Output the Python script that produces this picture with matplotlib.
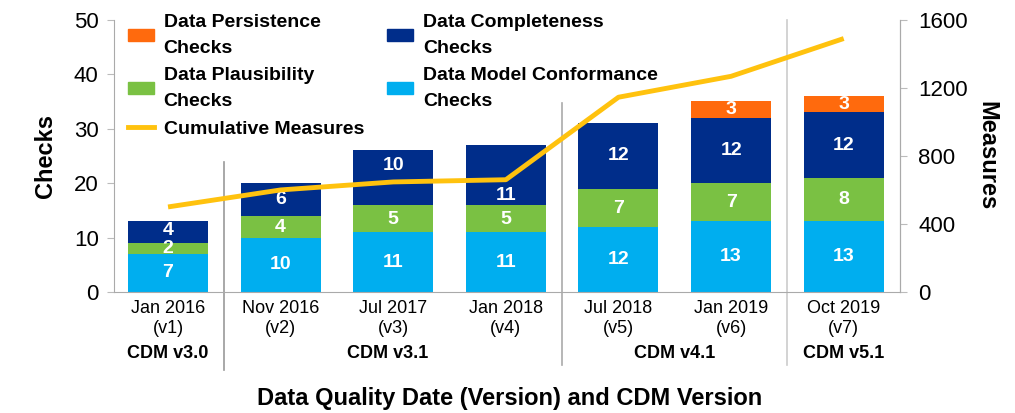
import matplotlib
matplotlib.use("Agg")
import matplotlib.pyplot as plt
from matplotlib.patches import Patch
from matplotlib.lines import Line2D

categories = ["Jan 2016\n(v1)", "Nov 2016\n(v2)", "Jul 2017\n(v3)", "Jan 2018\n(v4)",
              "Jul 2018\n(v5)", "Jan 2019\n(v6)", "Oct 2019\n(v7)"]
conformance = [7, 10, 11, 11, 12, 13, 13]
plausibility = [2, 4, 5, 5, 7, 7, 8]
completeness = [4, 6, 10, 11, 12, 12, 12]
persistence = [0, 0, 0, 0, 0, 3, 3]
measures = [500, 600, 647, 660, 1145, 1268, 1490]
cdm_labels = ["CDM v3.0", "CDM v3.1", "CDM v4.1", "CDM v5.1"]
cdm_centers = [0, 1.95, 4.5, 6]
separators = [0.5, 3.5, 5.5]

c_conf = "#00AEEF"
c_plaus = "#7AC143"
c_comp = "#002D8A"
c_pers = "#FF6A0D"
c_line = "#FFC20E"

plt.rcParams['font.family'] = ['Liberation Sans Narrow', 'Liberation Sans', 'DejaVu Sans']

fig = plt.figure(figsize=(10.15, 4.13), dpi=100)
ax = fig.add_axes([0.1123, 0.293, 0.7744, 0.659])
ax.patch.set_alpha(0)
x = list(range(len(categories)))
w = 0.71

b1 = ax.bar(x, conformance, w, color=c_conf)
bot2 = conformance
b2 = ax.bar(x, plausibility, w, bottom=bot2, color=c_plaus)
bot3 = [a + b for a, b in zip(conformance, plausibility)]
b3 = ax.bar(x, completeness, w, bottom=bot3, color=c_comp)
bot4 = [a + b for a, b in zip(bot3, completeness)]
b4 = ax.bar(x, persistence, w, bottom=bot4, color=c_pers)

def label(bars, vals, bottoms, offsets):
    for rect, v, b, o in zip(bars, vals, bottoms, offsets):
        if v > 0:
            ax.text(rect.get_x() + rect.get_width() / 2, b + v / 2 + o, str(v),
                    ha="center", va="center", color="white", fontsize=14, fontweight="bold")

label(b1, conformance, [0] * 7, [0] * 7)
label(b2, plausibility, bot2, [-0.1] * 7)
label(b3, completeness, bot3, [0.3, 0, 2.3, -3.8, 0, 0, 0])
label(b4, persistence, bot4, [0] * 7)

ax.set_xlim(-0.48, 6.5)
ax.set_ylim(0, 50)
ax.set_yticks([0, 10, 20, 30, 40, 50])
ax.tick_params(axis="y", labelsize=16, color="#BBBBBB", length=5, pad=6)
ax.set_xticks(x)
ax.set_xticklabels(categories, fontsize=13)
ax.tick_params(axis="x", length=0, pad=6)
ax.spines["top"].set_visible(False)
for s in ["left", "bottom", "right"]:
    ax.spines[s].set_color("#AAAAAA")
ax.set_ylabel("Checks", fontsize=17, fontweight="bold", family=['Liberation Sans', 'DejaVu Sans'], labelpad=12)

ax2 = ax.twinx()
ax2.patch.set_alpha(0)
ax2.plot(x, measures, color=c_line, lw=3.5, solid_capstyle="butt", zorder=5)
ax2.set_ylim(0, 1600)
ax2.set_yticks([0, 400, 800, 1200, 1600])
ax2.tick_params(axis="y", labelsize=16, color="#BBBBBB", length=5, pad=8)
for s in ["top", "left", "bottom"]:
    ax2.spines[s].set_visible(False)
ax2.spines["right"].set_color("#AAAAAA")
ax2.set_ylabel("Measures", fontsize=17, fontweight="bold", rotation=270, labelpad=22,
               family=['Liberation Sans', 'DejaVu Sans'])

# separators (vertical extents in figure fraction)
sep_tops = [0.608, 0.75, 0.952]
sep_bottoms = [0.104, 0.116, 0.116]
sep_colors = ["#999999", "#AAAAAA", "#CCCCCC"]
fig.canvas.draw()
for sx, top, bot, col in zip(separators, sep_tops, sep_bottoms, sep_colors):
    xd = ax.transData.transform((sx, 0))[0]
    xf = fig.transFigure.inverted().transform((xd, 0))[0]
    fig.add_artist(Line2D([xf, xf], [bot, top], color=col, lw=1.2,
                          transform=fig.transFigure, zorder=-1))

# CDM labels
for lab, cx in zip(cdm_labels, cdm_centers):
    ax.text(cx, -11.3, lab, ha="center", va="center", fontsize=13, fontweight="heavy",
            family=['Liberation Sans', 'DejaVu Sans'], transform=ax.transData, clip_on=False)

fig.text(0.502, 0.035, "Data Quality Date (Version) and CDM Version", ha="center", va="center",
         fontsize=17, fontweight="bold", family=['Liberation Sans', 'DejaVu Sans'])

handles = [Patch(color=c_pers), Patch(color=c_plaus),
           Line2D([0], [0], color=c_line, lw=3.5),
           Patch(color=c_comp), Patch(color=c_conf)]
labels = ["Data Persistence\nChecks", "Data Plausibility\nChecks", "Cumulative Measures",
          "Data Completeness\nChecks", "Data Model Conformance\nChecks"]
leg = ax2.legend(handles, labels, ncol=2, loc="upper left", bbox_to_anchor=(-0.005, 1.085),
                 frameon=False, handlelength=1.35, handleheight=0.6,
                 columnspacing=1.2, labelspacing=0.55, handletextpad=0.5,
                 prop={'weight': 'bold', 'size': 14})
for t in leg.get_texts():
    t.set_linespacing(1.65)
leg.set_zorder(10)

fig.savefig("out.png", dpi=100)
